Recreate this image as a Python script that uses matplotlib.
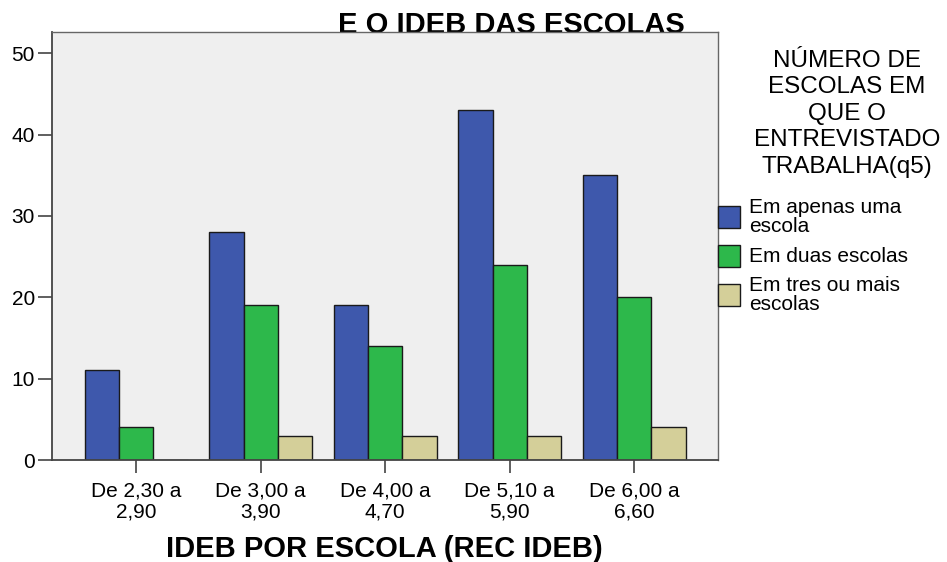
import numpy as np
import matplotlib
matplotlib.use('Agg')
import matplotlib.pyplot as plt
from matplotlib.patches import Rectangle

plt.rcParams['font.family'] = ['Liberation Sans', 'DejaVu Sans']

# Dados
faixas = ['De 2,30 a\n2,90', 'De 3,00 a\n3,90', 'De 4,00 a\n4,70', 'De 5,10 a\n5,90', 'De 6,00 a\n6,60']
uma_escola = [11, 28, 19, 43, 35]
duas_escolas = [4, 19, 14, 24, 20]
tres_ou_mais = [0, 3, 3, 3, 4]
series = ['Em apenas uma\nescola', 'Em duas escolas', 'Em tres ou mais\nescolas']
cores = ['#3e58ac', '#2db84b', '#d4cf99']

W, H = 947, 562
fig = plt.figure(figsize=(W / 100, H / 100), dpi=100)
ax = fig.add_axes([51.5 / W, 1 - 460 / H, (717.6 - 51.5) / W, (460 - 32) / H])
ax.set_facecolor('#efefef')

x = np.arange(len(faixas))
larg = 0.275
for i, (vals, cor) in enumerate(zip([uma_escola, duas_escolas, tres_ou_mais], cores)):
    ax.bar(x + (i - 1) * larg, vals, width=larg, color=cor, edgecolor='#1a1a1a', linewidth=1.0, zorder=2)

ax.set_xlim(-0.68, len(faixas) - 1 + 0.67)
ax.set_ylim(0, 52.6)
ax.set_yticks([0, 10, 20, 30, 40, 50])
ax.set_xticks(x)
ax.set_xticklabels(faixas, fontsize=15, linespacing=1.12)
ax.tick_params(axis='y', labelsize=15, length=10, width=1.2, pad=2, color='#444444')
ax.tick_params(axis='x', length=9.5, width=1.2, pad=6, color='#444444')

for s in ['left', 'bottom']:
    ax.spines[s].set_color('#444444')
    ax.spines[s].set_linewidth(1.3)
for s in ['top', 'right']:
    ax.spines[s].set_color('#666666')
    ax.spines[s].set_linewidth(1.0)

ax.set_xlabel('IDEB POR ESCOLA (REC IDEB)', fontsize=21, fontweight='bold', labelpad=10)

# Titulo (cortado pela area do grafico)
fig.text(338 / W, 1 - 33 / H, 'E O IDEB DAS ESCOLAS', fontsize=21, fontweight='bold',
         ha='left', va='baseline', zorder=-1)

# Legenda
fig.text(847 / W, 1 - 50 / H, 'NÚMERO DE\nESCOLAS EM\nQUE O\nENTREVISTADO\nTRABALHA(q5)',
         fontsize=17.5, ha='center', va='top', linespacing=1.26)
for i, (rot, cor) in enumerate(zip(series, cores)):
    yc = 217 + 39 * i
    fig.add_artist(Rectangle((718 / W, 1 - (yc + 11) / H), 22 / W, 22 / H,
                             facecolor=cor, edgecolor='#1a1a1a', linewidth=1.0,
                             transform=fig.transFigure))
    fig.text(749 / W, 1 - yc / H, rot, fontsize=15, ha='left', va='center', linespacing=0.95)

fig.savefig('out.png', dpi=100)
